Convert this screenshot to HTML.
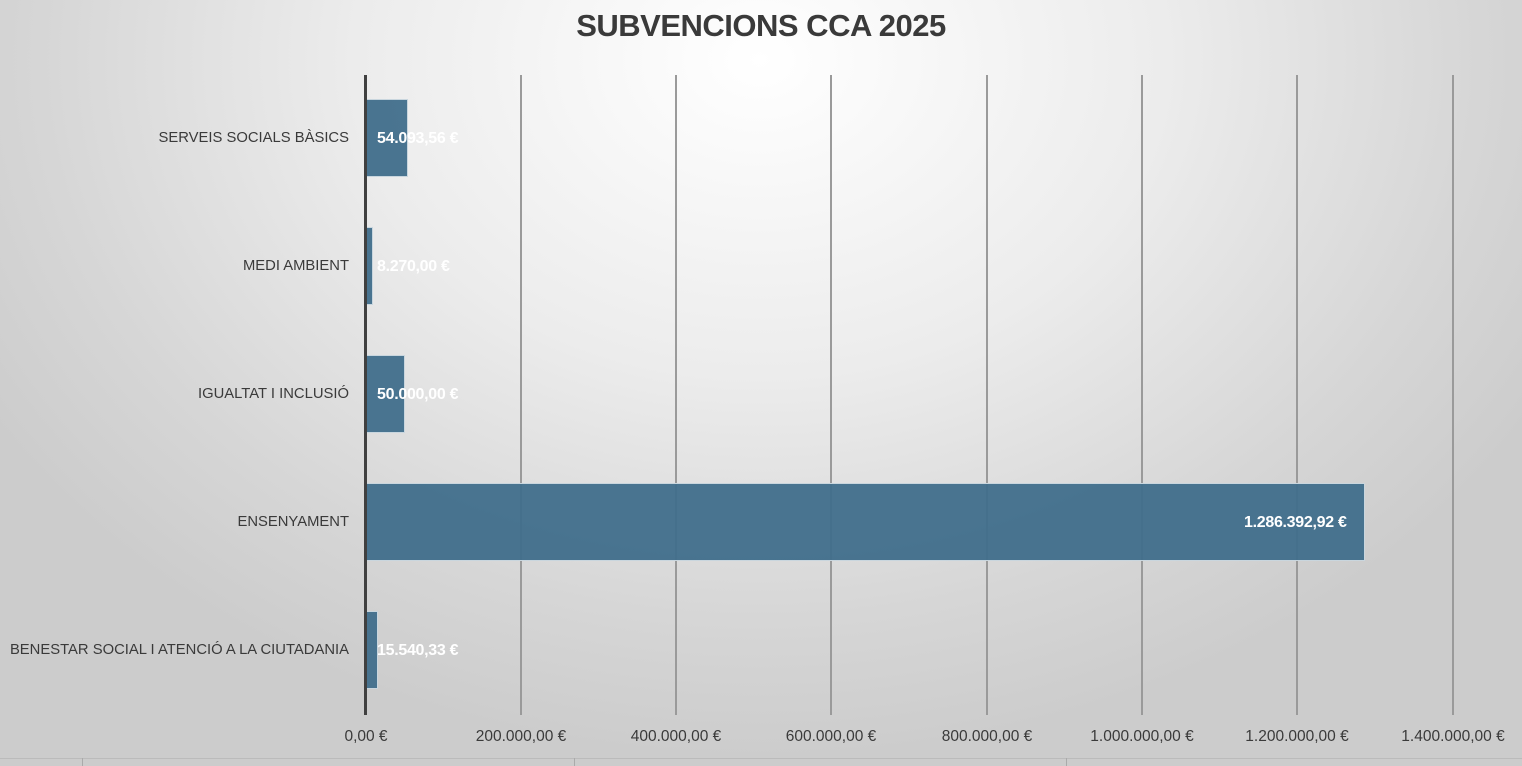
<!DOCTYPE html>
<html><head><meta charset="utf-8"><style>
body{margin:0;width:1522px;height:766px;overflow:hidden;font-family:"Liberation Sans",sans-serif;
background:radial-gradient(ellipse 900px 700px at 760px 60px,#ffffff 0%,#ececec 45%,#d6d6d6 80%,#cccccc 100%);position:relative}
.t{position:absolute;left:0;width:1522px;top:8px;text-align:center;font-size:31px;font-weight:bold;color:#3a3a3a;letter-spacing:-0.5px}
.g{position:absolute;top:75px;height:640px;width:2px;background:#9a9a9a}
.ax{position:absolute;left:364px;top:75px;height:640px;width:3px;background:#404040}
.bar{position:absolute;left:366px;height:78px;background:rgba(64,110,139,0.95);border:1px solid #c9d6de;box-sizing:border-box}
.v{position:absolute;color:#fff;font-weight:bold;font-size:16px;letter-spacing:-0.3px}
.c{position:absolute;right:1173px;font-size:14.8px;color:#3a3a3a;text-align:right;white-space:nowrap}
.x{position:absolute;top:728px;font-size:15.5px;color:#3a3a3a;transform:translateX(-50%);white-space:nowrap}
.b{position:absolute;top:758px;height:8px;width:1px;background:#aaa}
</style></head><body>
<div class="t">SUBVENCIONS CCA 2025</div>
<div class="g" style="left:520px"></div><div class="g" style="left:675px"></div><div class="g" style="left:830px"></div><div class="g" style="left:986px"></div><div class="g" style="left:1141px"></div><div class="g" style="left:1296px"></div><div class="g" style="left:1452px"></div>
<div class="bar" style="top:99px;width:42px"></div>
<div class="bar" style="top:227px;width:7px"></div>
<div class="bar" style="top:355px;width:39px"></div>
<div class="bar" style="top:483px;width:999px"></div>
<div class="bar" style="top:611px;width:12px"></div>
<div class="ax"></div>
<div class="v" style="left:377px;top:130px">54.093,56 €</div>
<div class="v" style="left:377px;top:258px">8.270,00 €</div>
<div class="v" style="left:377px;top:386px">50.000,00 €</div>
<div class="v" style="left:1244px;top:514px">1.286.392,92 €</div>
<div class="v" style="left:377px;top:642px">15.540,33 €</div>
<div class="c" style="top:130px">SERVEIS SOCIALS BÀSICS</div>
<div class="c" style="top:258px">MEDI AMBIENT</div>
<div class="c" style="top:386px">IGUALTAT I INCLUSIÓ</div>
<div class="c" style="top:514px">ENSENYAMENT</div>
<div class="c" style="top:642px">BENESTAR SOCIAL I ATENCIÓ A LA CIUTADANIA</div>
<div class="x" style="left:366px">0,00 €</div>
<div class="x" style="left:521px">200.000,00 €</div>
<div class="x" style="left:676px">400.000,00 €</div>
<div class="x" style="left:831px">600.000,00 €</div>
<div class="x" style="left:987px">800.000,00 €</div>
<div class="x" style="left:1142px">1.000.000,00 €</div>
<div class="x" style="left:1297px">1.200.000,00 €</div>
<div class="x" style="left:1453px">1.400.000,00 €</div>
<div style="position:absolute;left:0;top:758px;width:1522px;height:1px;background:#bbb"></div>
<div class="b" style="left:82px"></div><div class="b" style="left:574px"></div><div class="b" style="left:1066px"></div>
</body></html>
